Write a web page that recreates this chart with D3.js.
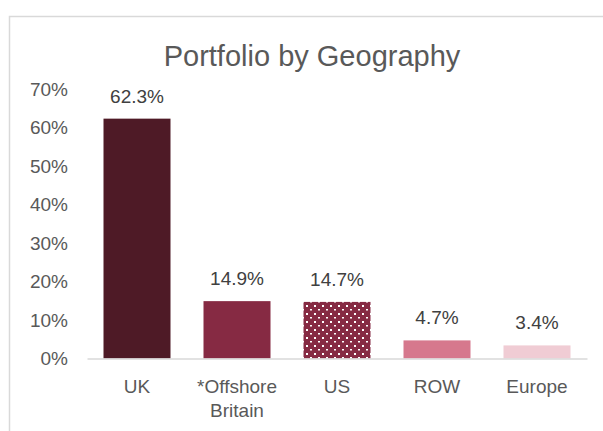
<!DOCTYPE html>
<html>
<head>
<meta charset="utf-8">
<script src="https://cdn.jsdelivr.net/npm/d3@7"></script>
<style>
	body { margin: 0; background: #fff; }
	text { font-family: Arial, "Liberation Sans", sans-serif; }
</style>
</head>
<body>
<svg id="bar" width="603" height="431"></svg>
<script>
// chart data
const categories = ['UK', '*Offshore Britain', 'US', 'ROW', 'Europe'];
const shares = [0.623, 0.149, 0.147, 0.047, 0.034];
const fills = ['#4e1a26', '#862a43', 'url(#dots)', '#d6788d', '#f0ccd4'];
const yTicks = [0, 0.1, 0.2, 0.3, 0.4, 0.5, 0.6, 0.7];

let svg = d3.select('#bar');
let width = +svg.attr('width');

// pattern for the US bar
let pat = svg.append('defs').append('pattern')
	.attr('id', 'dots')
	.attr('patternUnits', 'userSpaceOnUse')
	.attr('width', 8)
	.attr('height', 8);
pat.append('rect').attr('width', 8).attr('height', 8).attr('fill', '#862a43');
pat.append('rect').attr('x', 2).attr('y', 1).attr('width', 2).attr('height', 2).attr('fill', '#fff');
pat.append('rect').attr('x', 6).attr('y', 5).attr('width', 2).attr('height', 1.5).attr('fill', '#fff');

// chart frame
svg.append('rect')
	.attr('x', 9.5).attr('y', 16.5)
	.attr('width', 700).attr('height', 500)
	.attr('fill', 'none')
	.attr('stroke', '#d9d9d9')
	.attr('stroke-width', 1.5);

svg.append('text')
	.attr('x', 312)
	.attr('y', 66)
	.attr('text-anchor', 'middle')
	.attr('fill', '#595959')
	.style('font-size', '29px')
	.text('Portfolio by Geography');

let x = d3.scaleBand().domain(categories).range([87, 587]).paddingInner(0.33).paddingOuter(0.165);
let y = d3.scaleLinear().domain([0, 0.7]).range([358.5, 89]);

// y axis
let yAxis = svg.append('g')
	.attr('transform', 'translate(74,0)')
	.call(d3.axisLeft(y).tickValues(yTicks).tickFormat(d3.format('.0%')).tickSize(0).tickPadding(6));
yAxis.select('.domain').remove();
yAxis.selectAll('text')
	.attr('fill', '#595959')
	.style('font-size', '19px');

// bars
svg.selectAll('.bar')
	.data(shares)
	.enter().append('rect')
	.attr('class', 'bar')
	.attr('x', (d, i) => x(categories[i]))
	.attr('y', (d) => y(d))
	.attr('width', x.bandwidth())
	.attr('height', (d) => y(0) - y(d))
	.attr('fill', (d, i) => fills[i]);

// data labels
svg.selectAll('.lbl')
	.data(shares)
	.enter().append('text')
	.attr('class', 'lbl')
	.attr('x', (d, i) => x(categories[i]) + x.bandwidth() / 2)
	.attr('y', (d) => y(d) - 16)
	.attr('text-anchor', 'middle')
	.attr('fill', '#404040')
	.style('font-size', '19px')
	.text((d) => d3.format('.1%')(d));

// x axis
let xAxis = svg.append('g')
	.attr('transform', 'translate(0,' + y(0) + ')')
	.call(d3.axisBottom(x).tickSize(0).tickFormat(''));
xAxis.select('.domain')
	.attr('stroke', '#d9d9d9')
	.attr('stroke-width', 1.5);
xAxis.selectAll('.tick').each(function (d) {
	let t = d3.select(this).append('text')
		.attr('fill', '#595959')
		.attr('text-anchor', 'middle')
		.style('font-size', '19px');
	d.split(' ').forEach((w, k) => {
		t.append('tspan').attr('x', 0).attr('y', 34 + k * 24).text(w);
	});
});
</script>
</body>
</html>
